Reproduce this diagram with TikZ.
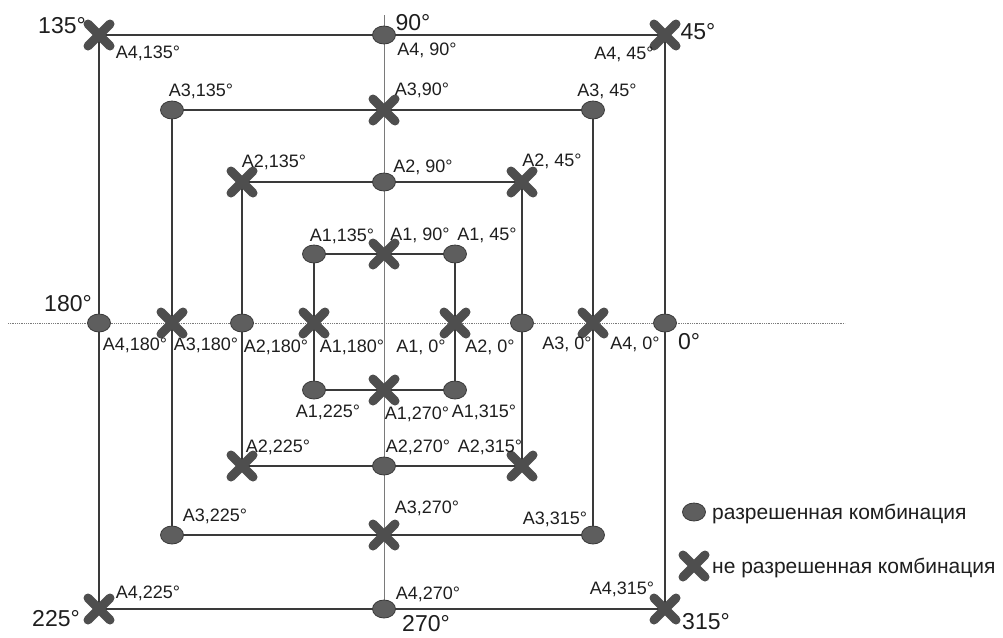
\documentclass[tikz,border=0pt]{standalone}
\usepackage{fontspec}
\setmainfont{Liberation Sans}
\usetikzlibrary{shapes.geometric,shapes.misc,backgrounds}
\definecolor{sqc}{HTML}{3A3A3A}
\definecolor{axc}{HTML}{7A7A7A}
\definecolor{okfill}{HTML}{5E5E5E}
\definecolor{okedge}{HTML}{3A3A3A}
\definecolor{nofill}{HTML}{4E4E4E}
\definecolor{txtc}{HTML}{1E1E1E}
\begin{document}
\begin{tikzpicture}[x=1pt,y=-1pt,
  okm/.style={ellipse,draw=okedge,fill=okfill,line width=0.8pt,minimum width=23pt,minimum height=18pt,inner sep=0pt},
  nom/.style={cross out,draw=nofill,line width=9pt,line cap=round,minimum size=13pt,inner sep=0pt},
  sqline/.style={draw=sqc,line width=2.2pt},
  axline/.style={draw=axc,line width=0.8pt},
  lbl/.style={font=\fontsize{18}{18}\selectfont,text=txtc,inner sep=0pt,text height=12.9pt,text depth=0pt},
  big/.style={font=\fontsize{23}{23}\selectfont,text=txtc,inner sep=0pt,text height=16.5pt,text depth=0pt},
  leg/.style={font=\fontsize{21}{21}\selectfont,text=txtc,inner sep=0pt,anchor=base west}]
\useasboundingbox (0,0) rectangle (1003,637);
% axis ends
\coordinate (axL) at (8,323);
\coordinate (axR) at (845,323);
\coordinate (axT) at (384,15);
\coordinate (axB) at (384,609);
% markers of the four squares
\foreach \s/\L/\R/\T/\B/\cs/\ms in {1/314/455/254/390/okm/nom, 2/242/522/182/466/nom/okm, 3/172/593/110/535/okm/nom, 4/99/665/35/609/nom/okm}{
  \node[\ms] (a\s-0)   at (\R,323) {};
  \node[\cs] (a\s-45)  at (\R,\T) {};
  \node[\ms] (a\s-90)  at (384,\T) {};
  \node[\cs] (a\s-135) at (\L,\T) {};
  \node[\ms] (a\s-180) at (\L,323) {};
  \node[\cs] (a\s-225) at (\L,\B) {};
  \node[\ms] (a\s-270) at (384,\B) {};
  \node[\cs] (a\s-315) at (\R,\B) {};
}
\begin{scope}[on background layer]
  \fill[white] (0,0) rectangle (1003,637);
  \draw[axline,densely dotted] (axL) -- (axR);
  \draw[axline] (axT) -- (axB);
  \foreach \s in {1,2,3,4}{
    \draw[sqline] (a\s-0.center) -- (a\s-45.center) -- (a\s-90.center) -- (a\s-135.center)
      -- (a\s-180.center) -- (a\s-225.center) -- (a\s-270.center) -- (a\s-315.center) -- cycle;
  }
\end{scope}
% big angle labels
\node[big] (g135) at (62,25) {135°};
\node[big] (g90)  at (413,22) {90°};
\node[big] (g45)  at (698,31) {45°};
\node[big] (g180) at (68,303) {180°};
\node[big] (g0)   at (689,341) {0°};
\node[big] (g225) at (56,618) {225°};
\node[big] (g270) at (426,623) {270°};
\node[big] (g315) at (706,621) {315°};
% small labels
\node[lbl] (l4-135) at (148,52) {A4,135°};
\node[lbl] (l3-135) at (201,90) {A3,135°};
\node[lbl] (l2-135) at (274,161) {A2,135°};
\node[lbl] (l4-90)  at (427,49) {A4, 90°};
\node[lbl] (l4-45)  at (624,53) {A4, 45°};
\node[lbl] (l3-90)  at (422,89) {A3,90°};
\node[lbl] (l3-45)  at (607,90) {A3, 45°};
\node[lbl] (l2-90)  at (423,166) {A2, 90°};
\node[lbl] (l2-45)  at (552,160) {A2, 45°};
\node[lbl] (l1-135) at (342,235) {A1,135°};
\node[lbl] (l1-90)  at (420,234) {A1, 90°};
\node[lbl] (l1-45)  at (487,234) {A1, 45°};
\node[lbl] (l4-180) at (135,344) {A4,180°};
\node[lbl] (l3-180) at (206,344) {A3,180°};
\node[lbl] (l2-180) at (276,346) {A2,180°};
\node[lbl] (l1-180) at (352,346) {A1,180°};
\node[lbl] (l1-0)   at (421,346) {A1, 0°};
\node[lbl] (l2-0)   at (490,346) {A2, 0°};
\node[lbl] (l3-0)   at (567,343) {A3, 0°};
\node[lbl] (l4-0)   at (635,343) {A4, 0°};
\node[lbl] (l1-225) at (328,411) {A1,225°};
\node[lbl] (l1-270) at (417,413) {A1,270°};
\node[lbl] (l1-315) at (484,411) {A1,315°};
\node[lbl] (l2-225) at (278,446) {A2,225°};
\node[lbl] (l2-270) at (418,446) {A2,270°};
\node[lbl] (l2-315) at (490,446) {A2,315°};
\node[lbl] (l3-225) at (215,515) {A3,225°};
\node[lbl] (l3-270) at (427,507) {A3,270°};
\node[lbl] (l3-315) at (555,518) {A3,315°};
\node[lbl] (l4-225) at (148,592) {A4,225°};
\node[lbl] (l4-270) at (428,593) {A4,270°};
\node[lbl] (l4-315) at (622,588) {A4,315°};
% legend
\node[okm] (legok) at (694,512) {};
\node[nom] (legno) at (694,566) {};
\node[leg] (legoktxt) at (712,519) {разрешенная комбинация};
\node[leg] (legnotxt) at (712,573) {не разрешенная комбинация};
\end{tikzpicture}
\end{document}
